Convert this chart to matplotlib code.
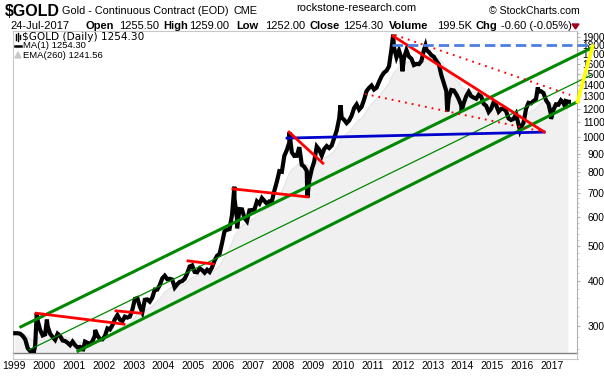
import numpy as np
import pandas as pd
import matplotlib
matplotlib.use("Agg")
import matplotlib.pyplot as plt
from matplotlib.lines import Line2D
from matplotlib.patches import Polygon
from matplotlib.ticker import FixedLocator, NullFormatter

plt.rcParams['font.family'] = ['Liberation Sans', 'DejaVu Sans']
plt.rcParams['lines.scale_dashes'] = False

# ---------------- data ----------------
start_year = 1999
monthly_price = [
    287, 287, 286, 282, 276, 261, 256, 257, 265, 311, 293, 283,     # 1999
    285, 300, 286, 280, 275, 286, 282, 274, 273, 270, 266, 272,     # 2000
    266, 262, 263, 261, 272, 270, 268, 273, 283, 283, 276, 276,     # 2001
    282, 296, 294, 302, 314, 322, 313, 310, 319, 317, 319, 333,     # 2002
    357, 359, 340, 328, 355, 356, 351, 360, 379, 379, 390, 407,     # 2003
    414, 405, 406, 404, 384, 392, 398, 400, 406, 420, 439, 442,     # 2004
    424, 423, 434, 429, 422, 430, 424, 437, 456, 470, 476, 510,     # 2005
    550, 555, 557, 610, 676, 596, 633, 632, 598, 586, 628, 629,     # 2006
    631, 665, 655, 679, 667, 655, 665, 665, 712, 754, 806, 803,     # 2007
    889, 922, 968, 909, 888, 889, 939, 839, 829, 807, 760, 816,     # 2008
    858, 943, 924, 890, 928, 946, 934, 949, 996, 1043, 1127, 1134,  # 2009
    1118, 1095, 1113, 1148, 1205, 1233, 1193, 1215, 1271, 1343, 1370, 1391,  # 2010
    1356, 1372, 1424, 1474, 1510, 1529, 1572, 1756, 1772, 1665, 1739, 1652,  # 2011
    1656, 1742, 1673, 1650, 1585, 1596, 1594, 1626, 1744, 1747, 1722, 1688,  # 2012
    1671, 1627, 1593, 1487, 1414, 1343, 1286, 1352, 1348, 1316, 1275, 1225,  # 2013
    1244, 1300, 1336, 1299, 1288, 1279, 1311, 1296, 1238, 1222, 1176, 1200,  # 2014
    1251, 1227, 1178, 1198, 1199, 1181, 1128, 1117, 1125, 1159, 1086, 1068,  # 2015
    1097, 1199, 1246, 1242, 1260, 1276, 1337, 1341, 1326, 1267, 1238, 1157,  # 2016
    1192, 1234, 1231, 1266, 1246, 1260, 1254,                                # 2017
]
extreme_dates = [1999.65, 1999.76, 2000.10, 2001.30, 2001.71, 2006.37, 2006.46,
                 2008.21, 2008.81, 2009.92, 2011.68, 2011.99, 2012.76, 2013.49,
                 2013.97, 2015.92, 2016.52, 2016.96, 2017.45, 2017.56]
extreme_values = [252, 326, 313, 256, 293, 730, 560,
                  1033, 681, 1227, 1923, 1523, 1795, 1180,
                  1182, 1046, 1375, 1124, 1205, 1254]

ema_span_months = 12   # EMA(260 days) on monthly points

# annotation lines: (x0, y0, x1, y1) in decimal years / price
green_thick_lines = [(1999.23, 299, 2018.35, 1773), (2001.14, 256, 2017.85, 1255)]
green_thin_lines = [(1999.50, 258, 2018.31, 1488)]
red_solid_lines = [(2011.68, 1906, 2016.73, 1035), (2008.20, 1034, 2009.33, 848),
                   (2006.32, 720, 2008.83, 684), (2004.82, 455, 2005.66, 446),
                   (1999.74, 326, 2002.68, 304), (2002.41, 331, 2003.25, 326)]
red_dotted_lines = [(2011.74, 1920, 2017.60, 1310), (2010.74, 1318, 2016.76, 1034)]
blue_solid_lines = [(2008.13, 995, 2016.73, 1034)]
blue_dashed_lines = [(2011.64, 1800, 2018.40, 1800)]
yellow_lines = [(2017.85, 1255, 2018.35, 1789)]

price_ticks = [300, 400, 500, 600, 700, 800, 900, 1000, 1100, 1200, 1300,
               1400, 1500, 1600, 1700, 1800, 1900]
year_ticks = list(range(1999, 2018))

# ---------------- build series ----------------
n = len(monthly_price)
month_x = [start_year + (i + 0.5) / 12.0 for i in range(n)]
s = pd.Series(monthly_price + extreme_values, index=month_x + extreme_dates).sort_index()
s = s.groupby(level=0).mean()
ema = pd.Series(monthly_price, index=month_x).ewm(span=ema_span_months, adjust=False).mean()

# ---------------- figure ----------------
W, H = 604, 376
fig = plt.figure(figsize=(W / 100, H / 100), dpi=100)
L, R, T, B = 13, 577, 31, 353
ax = fig.add_axes([L / W, 1 - B / H, (R - L) / W, (B - T) / H])
ax.set_yscale('log')
ax.set_xlim(1999 - 1 / 29.9, 1999 + (R - 14) / 29.9)
ax.set_ylim(253, 1969)

# EMA area
ax.fill_between(ema.index, 1, ema.values, color='#f0f0f0', lw=0, zorder=1)
ax.plot(ema.index, ema.values, color='#e4e4e4', lw=0.8, zorder=1.1)

# price
ax.plot(s.index, s.values, color='black', lw=3.0, zorder=5, solid_joinstyle='miter')


def draw(lines, **kw):
    for x0, y0, x1, y1 in lines:
        ax.plot([x0, x1], [y0, y1], clip_on=False, **kw)


draw(green_thick_lines, color='#008800', lw=2.2, zorder=6)
draw(green_thin_lines, color='#008800', lw=0.9, zorder=6)
draw(blue_solid_lines, color='#0000cc', lw=2.0, zorder=7)
draw(red_solid_lines, color='#ff0000', lw=2.0, zorder=8)
draw(red_dotted_lines, color='#ff0000', lw=1.4, zorder=8, linestyle=(0, (1.3, 3.6)))
draw(blue_dashed_lines, color='#4a7fe0', lw=2.0, zorder=8, linestyle=(0, (7.5, 3.6)))
draw(yellow_lines, color='#ffff00', lw=2.6, zorder=9)

# axes styling
for sp in ['top', 'left', 'right']:
    ax.spines[sp].set_color('#c8c8c8')
    ax.spines[sp].set_linewidth(0.8)
ax.spines['bottom'].set_color('#808080')
ax.spines['bottom'].set_linewidth(1.0)
ax.spines['right'].set_color('#b0b0b0')

ax.yaxis.tick_right()
ax.yaxis.set_major_locator(FixedLocator(price_ticks))
ax.yaxis.set_minor_locator(FixedLocator(list(range(260, 1000, 20)) + list(range(1050, 1960, 50))))
ax.yaxis.set_minor_formatter(NullFormatter())
ax.set_yticklabels([str(v) for v in price_ticks])
ax.tick_params(axis='y', which='major', length=2.5, color='#b0b0b0', pad=17.5,
               labelsize=7.3, labelcolor='black')
ax.tick_params(axis='y', which='minor', length=1.5, color='#c0c0c0')
for lab in ax.get_yticklabels():
    lab.set_horizontalalignment('right')

ax.xaxis.set_major_locator(FixedLocator(year_ticks))
ax.set_xticklabels([str(y) for y in year_ticks])
ax.tick_params(axis='x', which='major', length=0, pad=5.5, labelsize=7.5)

# extra frame line below the plot
fig.add_artist(Line2D([L / W, (R + 1) / W], [1 - 359 / H, 1 - 359 / H],
                      color='#c8c8c8', lw=0.8))
fig.add_artist(Line2D([L / W, L / W], [1 - 359 / H, 1 - B / H], color='#c8c8c8', lw=0.8))
fig.add_artist(Line2D([R / W, R / W], [1 - 359 / H, 1 - B / H], color='#c8c8c8', lw=0.8))


def ftext(px, py, txt, **kw):
    fig.text(px / W, 1 - py / H, txt, va='center', **kw)


# header line 1
ftext(5, 11, '$GOLD', fontsize=11.5, fontweight='bold')
ftext(62, 11, 'Gold - Continuous Contract (EOD)', fontsize=7.8)
ftext(233, 11, 'CME', fontsize=7.8)
ftext(296, 8, 'rockstone-research.com', fontsize=8.0)
ftext(489, 11, '\u00a9 StockCharts.com', fontsize=7.6)

# header line 2
row2 = [(10, '24-Jul-2017', 'normal'), (86, 'Open', 'bold'), (119, '1255.50', 'normal'),
        (163, 'High', 'bold'), (189, '1259.00', 'normal'), (236, 'Low', 'bold'),
        (265, '1252.00', 'normal'), (309, 'Close', 'bold'), (343, '1254.30', 'normal'),
        (389, 'Volume', 'bold'), (437, '199.5K', 'normal'), (476, 'Chg', 'bold'),
        (501, '-0.60 (-0.05%)', 'normal')]
for px, txt, wt in row2:
    ftext(px, 26, txt, fontsize=8.0, fontweight=wt)
fig.add_artist(Polygon([[572 / W, 1 - 24 / H], [579 / W, 1 - 24 / H], [575.5 / W, 1 - 29 / H]],
                       closed=True, color='#a00020', transform=fig.transFigure))

# legend
ftext(22, 37, '$GOLD (Daily) 1254.30', fontsize=7.6, family=['DejaVu Sans'])
ftext(23, 46, 'MA(1) 1254.30', fontsize=6.8)
ftext(23, 55, 'EMA(260) 1241.56', fontsize=6.8)
# icons
for ix, (a, b) in enumerate([(34, 40), (33, 41), (35, 39)]):
    x = 16 + ix * 2
    fig.add_artist(Line2D([x / W, x / W], [1 - a / H, 1 - b / H], color='black', lw=1.0))
fig.add_artist(Line2D([15 / W, 21 / W], [1 - 46 / H, 1 - 46 / H], color='black', lw=1.8))
fig.add_artist(Polygon([[15 / W, 1 - 58 / H], [18 / W, 1 - 52 / H], [21 / W, 1 - 58 / H]],
                       closed=True, color='#c8c8c8', transform=fig.transFigure))

fig.savefig('out.png', dpi=100)
